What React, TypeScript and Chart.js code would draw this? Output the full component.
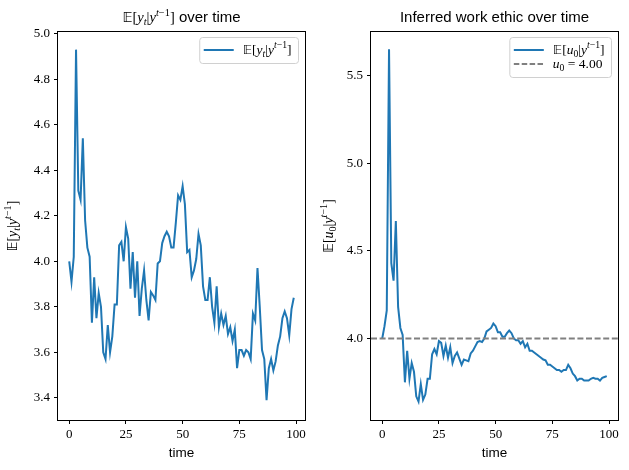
import React, { useEffect, useRef } from "react";
import { Chart, registerables } from "chart.js";

Chart.register(...registerables);

// ---------------- data ----------------
const timeSteps: number[] = Array.from({ length: 100 }, (_, i) => i);

const expectedY: number[] = [
  4.0, 3.91, 4.02, 4.93, 4.31, 4.27, 4.54, 4.18, 4.06, 4.02,
  3.73, 3.93, 3.75, 3.86, 3.8, 3.6, 3.57, 3.72, 3.6, 3.67,
  3.81, 3.81, 4.07, 4.085, 4.0, 4.15, 4.1, 3.88, 4.04, 3.84,
  4.0, 3.76, 3.88, 3.96, 3.83, 3.74, 3.865, 3.85, 3.83, 3.99,
  4.0, 4.08, 4.11, 4.13, 4.11, 4.06, 4.06, 4.17, 4.29, 4.27,
  4.33, 4.25, 4.04, 4.05, 3.93, 3.96, 4.01, 4.12, 4.07, 3.89,
  3.83, 3.83, 3.93, 3.8, 3.73, 3.89, 3.71, 3.77, 3.72, 3.76,
  3.68, 3.71, 3.65, 3.7, 3.53, 3.61, 3.61, 3.585, 3.61, 3.6,
  3.57, 3.77, 3.74, 3.97, 3.8, 3.61, 3.57, 3.39, 3.53, 3.57,
  3.52, 3.56, 3.63, 3.67, 3.75, 3.78, 3.75, 3.675, 3.79, 3.84,
];

const inferredU0: number[] = [
  4.0, 4.07, 4.16, 5.65, 4.43, 4.33, 4.67, 4.18, 4.06, 4.02,
  3.75, 3.93, 3.77, 3.86, 3.81, 3.67, 3.64, 3.74, 3.65, 3.68,
  3.77, 3.77, 3.91, 3.94, 3.91, 3.985, 3.975, 3.9, 3.96, 3.89,
  3.95, 3.86, 3.9, 3.92, 3.885, 3.85, 3.88, 3.875, 3.87, 3.915,
  3.93, 3.955, 3.98, 3.985, 3.98, 4.0, 4.04, 4.05, 4.06, 4.085,
  4.07, 4.035, 4.035, 4.01, 4.01, 4.03, 4.045, 4.03, 4.0, 3.99,
  3.99, 3.97, 3.985, 3.95, 3.97, 3.93, 3.93, 3.92, 3.91, 3.9,
  3.89, 3.88, 3.875, 3.85, 3.85, 3.84, 3.83, 3.82, 3.82, 3.81,
  3.82, 3.82, 3.85, 3.83, 3.8, 3.785, 3.76, 3.77, 3.77, 3.76,
  3.76, 3.76, 3.77, 3.775, 3.77, 3.77, 3.76, 3.775, 3.78, 3.785,
];

const trueU0 = 4.0;

const xTicks: number[] = [0, 25, 50, 75, 100];
const leftYTicks: number[] = [3.4, 3.6, 3.8, 4.0, 4.2, 4.4, 4.6, 4.8, 5.0];
const rightYTicks: number[] = [4.0, 4.5, 5.0, 5.5];

const X_MIN = -4.95;
const X_MAX = 103.95;
const LEFT_Y_MIN = 3.3025;
const LEFT_Y_MAX = 5.0075;
const RIGHT_Y_MIN = 3.535;
const RIGHT_Y_MAX = 5.748;

// ---------------- styles ----------------
const BLUE = "#1f77b4";
const GRAY = "#808080";
const SERIF = "'Liberation Serif', 'DejaVu Serif', serif";
const BB = "'DejaVu Sans', 'DejaVu Serif', 'Noto Sans', serif";
const SANS = "'Liberation Sans', 'DejaVu Sans', sans-serif";

type Seg = { t: string; size: number; italic?: boolean; dy?: number; fam?: string };

function segFont(s: Seg) {
  return `${s.italic ? "italic " : ""}${s.size}px ${s.fam ?? SERIF}`;
}
function richWidth(ctx: CanvasRenderingContext2D, segs: Seg[]) {
  let w = 0;
  for (const s of segs) {
    ctx.font = segFont(s);
    w += ctx.measureText(s.t).width;
  }
  return w;
}
function drawRich(ctx: CanvasRenderingContext2D, segs: Seg[], x: number, y: number) {
  let cx = x;
  ctx.textAlign = "left";
  ctx.textBaseline = "alphabetic";
  for (const s of segs) {
    ctx.font = segFont(s);
    ctx.fillText(s.t, cx, y + (s.dy ?? 0));
    cx += ctx.measureText(s.t).width;
  }
}

function expLabel(v: string, sub: string, size: number, subItalic: boolean): Seg[] {
  const small = size * 0.72;
  return [
    { t: "𝔼", size: size * 0.95, fam: BB },
    { t: "[", size },
    { t: v, size, italic: true },
    { t: sub, size: small, italic: subItalic, dy: size * 0.22 },
    { t: "|", size },
    { t: "y", size, italic: true },
    { t: "t", size: small, italic: true, dy: -size * 0.42 },
    { t: "−1", size: small, dy: -size * 0.42 },
    { t: "]", size },
  ];
}

type LegendItem = { label: Seg[]; color: string; dash: number[] };

type OverlayCfg = {
  id: string;
  title: Seg[];
  yTitle: Seg[];
  yTitleX: number;
  legend: LegendItem[];
};

function makeOverlay(cfg: OverlayCfg) {
  return {
    id: cfg.id,
    afterDraw(chart: any) {
      const ctx: CanvasRenderingContext2D = chart.ctx;
      const a = chart.chartArea;
      ctx.save();
      ctx.fillStyle = "#000";
      // frame
      ctx.strokeStyle = "#000";
      ctx.lineWidth = 1;
      const l = Math.round(a.left), t = Math.round(a.top);
      const r = Math.round(a.right), b = Math.round(a.bottom);
      ctx.strokeRect(l - 0.5, t - 0.5, r - l + 1, b - t + 1);

      // title
      const cx = (a.left + a.right) / 2;
      const tw = richWidth(ctx, cfg.title);
      drawRich(ctx, cfg.title, cx - tw / 2, 22);

      // x title
      const xt: Seg[] = [{ t: "time", size: 13.5, fam: SANS }];
      const xw = richWidth(ctx, xt);
      drawRich(ctx, xt, cx - xw / 2, 457);

      // y title
      const cy = (a.top + a.bottom) / 2;
      const yw = richWidth(ctx, cfg.yTitle);
      ctx.save();
      ctx.translate(cfg.yTitleX, cy);
      ctx.rotate(-Math.PI / 2);
      drawRich(ctx, cfg.yTitle, -yw / 2, 0);
      ctx.restore();

      // legend
      const n = cfg.legend.length;
      let maxW = 0;
      for (const it of cfg.legend) maxW = Math.max(maxW, richWidth(ctx, it.label));
      const boxW = 43 + maxW + 7;
      const rowStep = 14;
      const boxH = 26 + (n - 1) * rowStep;
      const bx = a.right - 6.5 - boxW;
      const by = a.top + 5.5;
      ctx.beginPath();
      const rr = 3;
      ctx.moveTo(bx + rr, by);
      ctx.lineTo(bx + boxW - rr, by);
      ctx.quadraticCurveTo(bx + boxW, by, bx + boxW, by + rr);
      ctx.lineTo(bx + boxW, by + boxH - rr);
      ctx.quadraticCurveTo(bx + boxW, by + boxH, bx + boxW - rr, by + boxH);
      ctx.lineTo(bx + rr, by + boxH);
      ctx.quadraticCurveTo(bx, by + boxH, bx, by + boxH - rr);
      ctx.lineTo(bx, by + rr);
      ctx.quadraticCurveTo(bx, by, bx + rr, by);
      ctx.closePath();
      ctx.fillStyle = "rgba(255,255,255,0.8)";
      ctx.fill();
      ctx.strokeStyle = "#d0d0d0";
      ctx.lineWidth = 1;
      ctx.stroke();
      cfg.legend.forEach((it, i) => {
        const ry = by + 12.5 + i * rowStep;
        ctx.beginPath();
        ctx.strokeStyle = it.color;
        ctx.lineWidth = 2;
        ctx.setLineDash(it.dash);
        ctx.moveTo(bx + 4, ry);
        ctx.lineTo(bx + 34, ry);
        ctx.stroke();
        ctx.setLineDash([]);
        ctx.fillStyle = "#000";
        drawRich(ctx, it.label, bx + 43, ry + 4);
      });
      ctx.restore();
    },
  };
}

function makeConfig(p: {
  datasets: any[];
  yMin: number;
  yMax: number;
  yTicks: number[];
  areaLeft: number;
  areaRight: number;
  canvasW: number;
  overlay: any;
}) {
  const tickFont = { family: SERIF, size: 13 };
  const grid = {
    drawOnChartArea: false,
    drawTicks: true,
    tickLength: 4,
    color: "#000",
    lineWidth: 1,
  };
  return {
    type: "line" as const,
    data: { datasets: p.datasets },
    options: {
      responsive: false,
      animation: false as const,
      events: [],
      layout: { padding: { left: 0, right: p.canvasW - p.areaRight, top: 32, bottom: 0 } },
      plugins: {
        legend: { display: false },
        title: { display: false },
        tooltip: { enabled: false },
      },
      elements: { point: { radius: 0 }, line: { tension: 0 } },
      scales: {
        x: {
          type: "linear" as const,
          min: X_MIN,
          max: X_MAX,
          afterBuildTicks: (s: any) => {
            s.ticks = xTicks.map((v) => ({ value: v }));
          },
          afterFit: (s: any) => {
            s.height = 50;
          },
          grid,
          border: { display: false },
          ticks: {
            font: tickFont,
            color: "#000",
            padding: 3,
            maxRotation: 0,
            autoSkip: false,
            callback: (v: any) => String(v),
          },
        },
        y: {
          type: "linear" as const,
          min: p.yMin,
          max: p.yMax,
          afterBuildTicks: (s: any) => {
            s.ticks = p.yTicks.map((v) => ({ value: v }));
          },
          afterFit: (s: any) => {
            s.width = p.areaLeft;
          },
          grid,
          border: { display: false },
          ticks: {
            font: tickFont,
            color: "#000",
            padding: 4,
            autoSkip: false,
            callback: (v: any) => Number(v).toFixed(1),
          },
        },
      },
    },
    plugins: [p.overlay],
  };
}

export default function App() {
  const leftRef = useRef<HTMLCanvasElement>(null);
  const rightRef = useRef<HTMLCanvasElement>(null);

  useEffect(() => {
    const leftData = timeSteps.map((t, i) => ({ x: t, y: expectedY[i] }));
    const rightData = timeSteps.map((t, i) => ({ x: t, y: inferredU0[i] }));
    const refLine = [
      { x: X_MIN, y: trueU0 },
      { x: X_MAX, y: trueU0 },
    ];

    const LS = 13.5;
    const YS = 14;
    const leftOverlay = makeOverlay({
      id: "leftOverlay",
      title: [...expLabel("y", "t", 14.5, true), { t: " over time", size: 15, fam: SANS }],
      yTitle: expLabel("y", "t", YS, true),
      yTitleX: 17,
      legend: [{ label: expLabel("y", "t", LS, true), color: BLUE, dash: [] }],
    });
    const rightOverlay = makeOverlay({
      id: "rightOverlay",
      title: [{ t: "Inferred work ethic over time", size: 15, fam: SANS }],
      yTitle: expLabel("u", "0", YS, false),
      yTitleX: 18,
      legend: [
        { label: expLabel("u", "0", LS, false), color: BLUE, dash: [] },
        {
          label: [
            { t: "u", size: LS, italic: true },
            { t: "0", size: LS * 0.72, dy: LS * 0.22 },
            { t: " = 4.00", size: LS },
          ],
          color: GRAY,
          dash: [5.5, 2.4],
        },
      ],
    });

    const c1 = new Chart(
      leftRef.current!,
      makeConfig({
        datasets: [
          {
            data: leftData,
            borderColor: BLUE,
            borderWidth: 2,
            fill: false,
          },
        ],
        yMin: LEFT_Y_MIN,
        yMax: LEFT_Y_MAX,
        yTicks: leftYTicks,
        areaLeft: 58,
        areaRight: 305,
        canvasW: 315,
        overlay: leftOverlay,
      }) as any
    );
    const c2 = new Chart(
      rightRef.current!,
      makeConfig({
        datasets: [
          {
            data: refLine,
            borderColor: GRAY,
            borderWidth: 2,
            borderDash: [6, 2.6],
            fill: false,
            order: 0,
          },
          {
            data: rightData,
            borderColor: BLUE,
            borderWidth: 2,
            fill: false,
            order: 1,
          },
        ],
        yMin: RIGHT_Y_MIN,
        yMax: RIGHT_Y_MAX,
        yTicks: rightYTicks,
        areaLeft: 56,
        areaRight: 303,
        canvasW: 314,
        overlay: rightOverlay,
      }) as any
    );
    return () => {
      c1.destroy();
      c2.destroy();
    };
  }, []);

  return (
    <div
      style={{
        position: "absolute",
        left: 0,
        top: 0,
        width: 629,
        height: 470,
        background: "#fff",
      }}
    >
      <canvas
        ref={leftRef}
        width={315}
        height={470}
        style={{ position: "absolute", left: 0, top: 0 }}
      />
      <canvas
        ref={rightRef}
        width={314}
        height={470}
        style={{ position: "absolute", left: 315, top: 0 }}
      />
    </div>
  );
}
